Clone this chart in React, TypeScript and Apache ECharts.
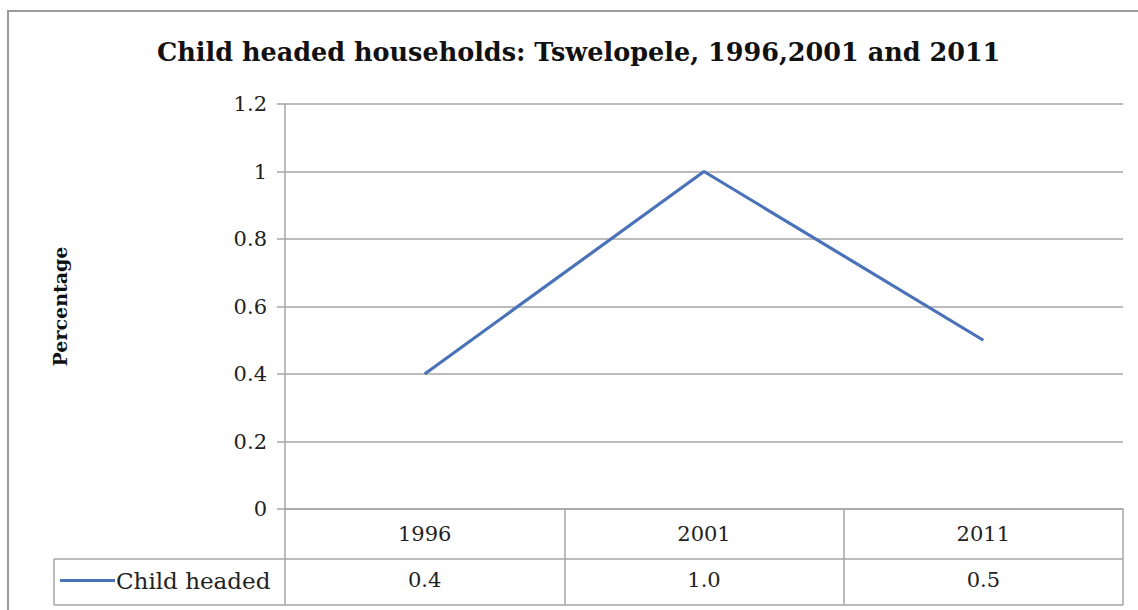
import React, { useEffect, useRef } from "react";
import * as echarts from "echarts";

// Child headed households, Tswelopele
const years = ["1996", "2001", "2011"];
const childHeaded = [0.4, 1.0, 0.5];
const seriesName = "Child headed";
const yTicks = { min: 0, max: 1.2, interval: 0.2 };

const FONT = "'DejaVu Serif', 'Liberation Serif', serif";
const GRID_COLOR = "#a6a6a6";
const LINE_COLOR = "#4a72b8";

export default function App() {
  const ref = useRef<HTMLDivElement>(null);

  useEffect(() => {
    if (!ref.current) return;
    const chart = echarts.init(ref.current, null, { renderer: "svg" });

    const left = 285;
    const right = 15;
    const top = 104;
    const bottom = 101;
    const W = 1138;
    const H = 610;
    const axisY = H - bottom; // 509
    const rowSplit = 559;
    const rowEnd = 605;

    chart.setOption({
      animation: false,
      backgroundColor: "#ffffff",
      title: {
        text: "Child headed households: Tswelopele, 1996,2001 and 2011",
        left: 152,
        top: 34,
        textStyle: { fontFamily: FONT, fontSize: 25.5, fontWeight: "bold", color: "#111" },
      },
      legend: {
        data: [seriesName],
        left: 55,
        top: 564,
        icon: "rect",
        itemWidth: 55,
        itemHeight: 3,
        itemGap: 0,
        textStyle: { fontFamily: FONT, fontSize: 23, color: "#222", padding: [0, 0, 0, -4] },
      },
      grid: { left, right, top, bottom },
      xAxis: [
        {
          type: "category",
          data: years,
          boundaryGap: true,
          axisLine: { show: true, lineStyle: { color: GRID_COLOR, width: 1.5 } },
          axisTick: { show: true, length: rowEnd - axisY, lineStyle: { color: GRID_COLOR, width: 1.5 } },
          axisLabel: { fontFamily: FONT, fontSize: 21, color: "#222", margin: 14 },
        },
        {
          type: "category",
          data: childHeaded.map((v) => v.toFixed(1)),
          boundaryGap: true,
          position: "bottom",
          axisLine: { show: false },
          axisTick: { show: false },
          axisLabel: { fontFamily: FONT, fontSize: 21, color: "#222", margin: 60 },
        },
      ],
      yAxis: {
        type: "value",
        min: yTicks.min,
        max: yTicks.max,
        interval: yTicks.interval,
        name: "Percentage",
        nameLocation: "middle",
        nameRotate: 90,
        nameGap: 216,
        nameTextStyle: { fontFamily: FONT, fontSize: 19, fontWeight: "bold", color: "#111" },
        axisLine: { show: true, lineStyle: { color: GRID_COLOR, width: 1.5 } },
        axisTick: { show: true, length: 8, lineStyle: { color: GRID_COLOR, width: 1.5 } },
        axisLabel: {
          fontFamily: FONT,
          fontSize: 21,
          color: "#222",
          margin: 18,
          formatter: (v: number) => String(Math.round(v * 10) / 10),
        },
        splitLine: { show: true, lineStyle: { color: GRID_COLOR, width: 1.5 } },
      },
      series: [
        {
          name: seriesName,
          type: "line",
          data: childHeaded,
          symbol: "none",
          lineStyle: { color: LINE_COLOR, width: 3.2 },
          itemStyle: { color: LINE_COLOR },
        },
      ],
      graphic: [
        // outer chart frame
        {
          type: "rect",
          shape: { x: 8, y: 11, width: W + 20, height: H + 20 },
          style: { fill: "none", stroke: "#9a9a9a", lineWidth: 2 },
          silent: true,
        },
        // data table rows and borders
        {
          type: "line",
          shape: { x1: 54, y1: rowSplit, x2: W - right, y2: rowSplit },
          style: { stroke: GRID_COLOR, lineWidth: 1.5 },
        },
        {
          type: "line",
          shape: { x1: 54, y1: rowEnd, x2: W - right, y2: rowEnd },
          style: { stroke: GRID_COLOR, lineWidth: 1.5 },
        },
        {
          type: "line",
          shape: { x1: 54, y1: rowSplit, x2: 54, y2: rowEnd },
          style: { stroke: GRID_COLOR, lineWidth: 1.5 },
        },
      ],
    });

    return () => chart.dispose();
  }, []);

  return (
    <div
      ref={ref}
      style={{ position: "fixed", left: 0, top: 0, width: 1138, height: 610 }}
    />
  );
}
